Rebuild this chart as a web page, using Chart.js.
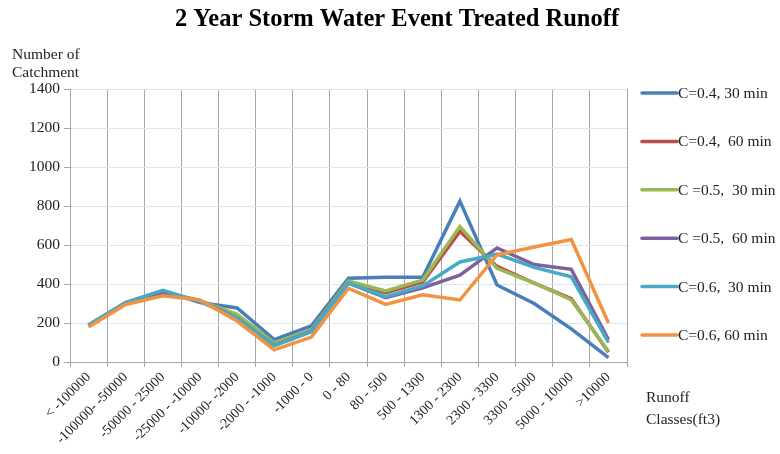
<!DOCTYPE html>
<html>
<head>
<meta charset="utf-8">
<script src="https://cdn.jsdelivr.net/npm/chart.js@4.4.0/dist/chart.umd.min.js"></script>
<style>
  html, body { margin: 0; padding: 0; background: #fff; }
  #wrap { width: 780px; height: 454px; position: relative; }
</style>
</head>
<body>
<div id="wrap"><canvas id="chart"></canvas></div>
<script>
const FONT = "'Liberation Serif', 'DejaVu Serif', serif";

const CLASES = [
  "< -100000", "-100000- -50000", "-50000 - 25000", "-25000 - -10000",
  "-10000- -2000", "-2000 - -1000", "-1000 - 0", "0 - 80", "80 - 500",
  "500 - 1300", "1300 - 2300", "2300 - 3300", "3300 - 5000",
  "5000 - 10000", ">10000",
];

const SERIES_LABELS = [
  "C=0.4, 30 min",
  "C=0.4,  60 min",
  "C =0.5,  30 min",
  "C =0.5,  60 min",
  "C=0.6,  30 min",
  "C=0.6, 60 min",
];

const COLORES = ["#4a7ebb", "#be4b48", "#98b954", "#7d60a0", "#46aac5", "#f09443"];

const C04_30 = [190, 305, 365, 305, 277, 115, 185, 430, 435, 435, 825, 395, 300, 170, 22];
const C04_60 = [185, 300, 355, 315, 230, 90, 160, 410, 355, 410, 670, 490, 405, 325, 50];
const C05_30 = [190, 305, 360, 315, 245, 98, 165, 415, 365, 420, 695, 480, 405, 318, 55];
const C05_60 = [185, 300, 355, 315, 225, 85, 158, 405, 330, 380, 445, 585, 500, 475, 115];
const C06_30 = [190, 305, 368, 310, 225, 85, 155, 405, 335, 390, 513, 553, 485, 437, 100];
const C06_60 = [180, 295, 340, 318, 210, 62, 128, 378, 295, 345, 318, 550, 590, 628, 200];

const Y_TICKS = [0, 200, 400, 600, 800, 1000, 1200, 1400];

const valores = [C04_30, C04_60, C05_30, C05_60, C06_30, C06_60];

// later series sit on top of earlier ones, so reverse the draw order
let datasets = valores.map((e, i) => {
  return {
    label: SERIES_LABELS[i],
    data: e,
    borderColor: COLORES[i],
    backgroundColor: COLORES[i],
    borderWidth: 3.5,
    pointRadius: 0,
    tension: 0,
    order: valores.length - i,
  };
});

// titles, axis captions and the legend column are painted by hand
const textos = {
  id: "textos",
  afterDraw(chart) {
    const ctx = chart.ctx;
    ctx.save();
    ctx.fillStyle = "#000";
    ctx.textBaseline = "middle";

    ctx.font = `bold 24.5px ${FONT}`;
    ctx.textAlign = "center";
    ctx.fillText("2 Year Storm Water Event Treated Runoff", 397, 20);

    ctx.font = `15.5px ${FONT}`;
    ctx.textAlign = "left";
    ctx.fillStyle = "#222";
    ctx.fillText("Number of", 12, 55);
    ctx.fillText("Catchment", 12, 73);

    ctx.fillText("Runoff", 646, 398);
    ctx.fillText("Classes(ft3)", 646, 420);

    chart.data.datasets.forEach((ds, i) => {
      const y = 93 + i * 48.4;
      ctx.strokeStyle = ds.borderColor;
      ctx.lineWidth = 3.5;
      ctx.lineCap = "round";
      ctx.beginPath();
      ctx.moveTo(642, y);
      ctx.lineTo(677, y);
      ctx.stroke();
      ctx.fillStyle = "#222";
      ctx.fillText(ds.label, 678, y + 1);
    });
    ctx.restore();
  }
};

const ctx = document.getElementById("chart");
new Chart(ctx, {
  type: "line",
  data: {
    labels: CLASES,
    datasets: datasets,
  },
  options: {
    responsive: true,
    maintainAspectRatio: false,
    animation: false,
    layout: { padding: { top: 89, right: 153, bottom: 0, left: 0 } },
    plugins: {
      legend: { display: false },
      title: { display: false },
      tooltip: { enabled: false },
    },
    scales: {
      x: {
        offset: true,
        grid: {
          offset: true,
          color: "#a6a6a6",
          tickColor: "#a6a6a6",
          tickLength: 5,
        },
        border: { color: "#a6a6a6" },
        ticks: {
          minRotation: 45,
          maxRotation: 45,
          autoSkip: false,
          padding: 2,
          color: "#222",
          font: { family: FONT, size: 14 },
        },
        afterFit(scale) { scale.height = 92; },
      },
      y: {
        min: 0,
        max: 1400,
        afterBuildTicks(scale) {
          scale.ticks = Y_TICKS.map((v) => ({ value: v }));
        },
        grid: {
          color: "#dbe4f0",
          tickColor: "#a6a6a6",
          tickLength: 6,
        },
        border: { color: "#a6a6a6" },
        ticks: {
          padding: 4,
          color: "#222",
          font: { family: FONT, size: 15.5 },
          callback: (v) => String(v),
        },
        afterFit(scale) { scale.width = 70; },
      },
    },
  },
  plugins: [textos],
});
</script>
</body>
</html>
